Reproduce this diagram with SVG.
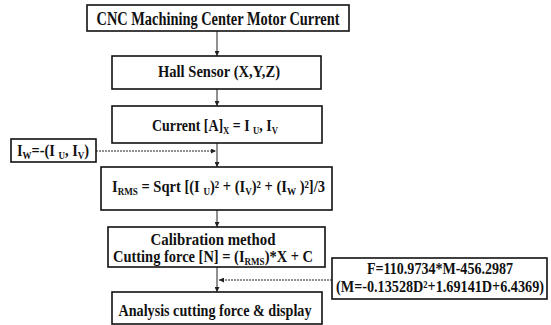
<svg xmlns="http://www.w3.org/2000/svg" width="551" height="325" viewBox="0 0 551 325">
<style>
.box{fill:#fff;stroke:#111;stroke-width:1.6}
.t{font-family:"Liberation Serif","Times New Roman",serif;font-weight:bold;fill:#111;text-anchor:middle}
.tl{font-family:"Liberation Serif","Times New Roman",serif;font-weight:bold;fill:#111}
.c{stroke:#222;stroke-width:1;fill:none}
.d{stroke:#222;stroke-width:1;fill:none;stroke-dasharray:2 1}
.s{font-size:10px}
</style>
<defs>
<marker id="ah" viewBox="0 0 6 6" refX="6" refY="3" markerWidth="5" markerHeight="5" orient="auto" markerUnits="userSpaceOnUse">
<path d="M0,0 L6,3 L0,6 z" fill="#222"/>
</marker>
</defs>
<g id="connectors">
<line class="c" x1="217" y1="31" x2="217" y2="56" marker-end="url(#ah)"/>
<line class="c" x1="217" y1="89" x2="217" y2="106" marker-end="url(#ah)"/>
<line class="c" x1="217" y1="143" x2="217" y2="167" marker-end="url(#ah)"/>
<line class="d" x1="96" y1="151" x2="216" y2="151" marker-end="url(#ah)"/>
<line class="c" x1="217" y1="210" x2="217" y2="227" marker-end="url(#ah)"/>
<line class="c" x1="217" y1="267" x2="217" y2="292" marker-end="url(#ah)"/>
<line class="d" x1="332" y1="280" x2="219" y2="280" marker-end="url(#ah)"/>
</g>
<g id="n1">
<rect class="box" x="87" y="5" width="262" height="26"/>
<text class="t" x="218" y="25" font-size="18" textLength="243" lengthAdjust="spacingAndGlyphs">CNC Machining Center Motor Current</text>
</g>
<g id="n2">
<rect class="box" x="112" y="56" width="209" height="33"/>
<text class="t" x="219" y="77" font-size="16" textLength="122" lengthAdjust="spacingAndGlyphs">Hall Sensor (X,Y,Z)</text>
</g>
<g id="n3">
<rect class="box" x="112" y="106" width="210" height="37"/>
<text class="tl" x="152" y="131" font-size="16" textLength="126" lengthAdjust="spacingAndGlyphs">Current [A]<tspan class="s" dy="3">X</tspan><tspan dy="-3"> = I </tspan><tspan class="s" dy="3">U</tspan><tspan dy="-3">, I</tspan><tspan class="s" dy="3">V</tspan></text>
</g>
<g id="n_iw">
<rect class="box" x="11" y="139" width="85" height="23"/>
<text class="tl" x="17" y="156" font-size="16" textLength="72" lengthAdjust="spacingAndGlyphs">I<tspan class="s" dy="3">W</tspan><tspan dy="-3">=-(I </tspan><tspan class="s" dy="3">U</tspan><tspan dy="-3">, I</tspan><tspan class="s" dy="3">V</tspan><tspan dy="-3">)</tspan></text>
</g>
<g id="n4">
<rect class="box" x="101" y="167" width="231" height="43"/>
<text class="tl" x="112" y="192" font-size="16" textLength="213" lengthAdjust="spacingAndGlyphs">I<tspan class="s" dy="3">RMS</tspan><tspan dy="-3"> = Sqrt [(I </tspan><tspan class="s" dy="3">U</tspan><tspan dy="-3">)² + (I</tspan><tspan class="s" dy="3">V</tspan><tspan dy="-3">)² + (I</tspan><tspan class="s" dy="3">W</tspan><tspan dy="-3"> )²]/3</tspan></text>
</g>
<g id="n5">
<rect class="box" x="108" y="227" width="217" height="40"/>
<text class="t" x="213" y="245" font-size="16" textLength="125" lengthAdjust="spacingAndGlyphs">Calibration method</text>
<text class="tl" x="113" y="262" font-size="16" textLength="200" lengthAdjust="spacingAndGlyphs">Cutting force [N] = (I<tspan class="s" dy="3">RMS</tspan><tspan dy="-3">)*X + C</tspan></text>
</g>
<g id="n6">
<rect class="box" x="112" y="292" width="210" height="32"/>
<text class="t" x="215" y="316" font-size="16" textLength="193" lengthAdjust="spacingAndGlyphs">Analysis cutting force &amp; display</text>
</g>
<g id="n_f">
<rect class="box" x="332" y="258" width="215" height="41"/>
<text class="t" x="440" y="274" font-size="16" textLength="146" lengthAdjust="spacingAndGlyphs">F=110.9734*M-456.2987</text>
<text class="t" x="440" y="292" font-size="16" textLength="208" lengthAdjust="spacingAndGlyphs">(M=-0.13528D²+1.69141D+6.4369)</text>
</g>
</svg>
